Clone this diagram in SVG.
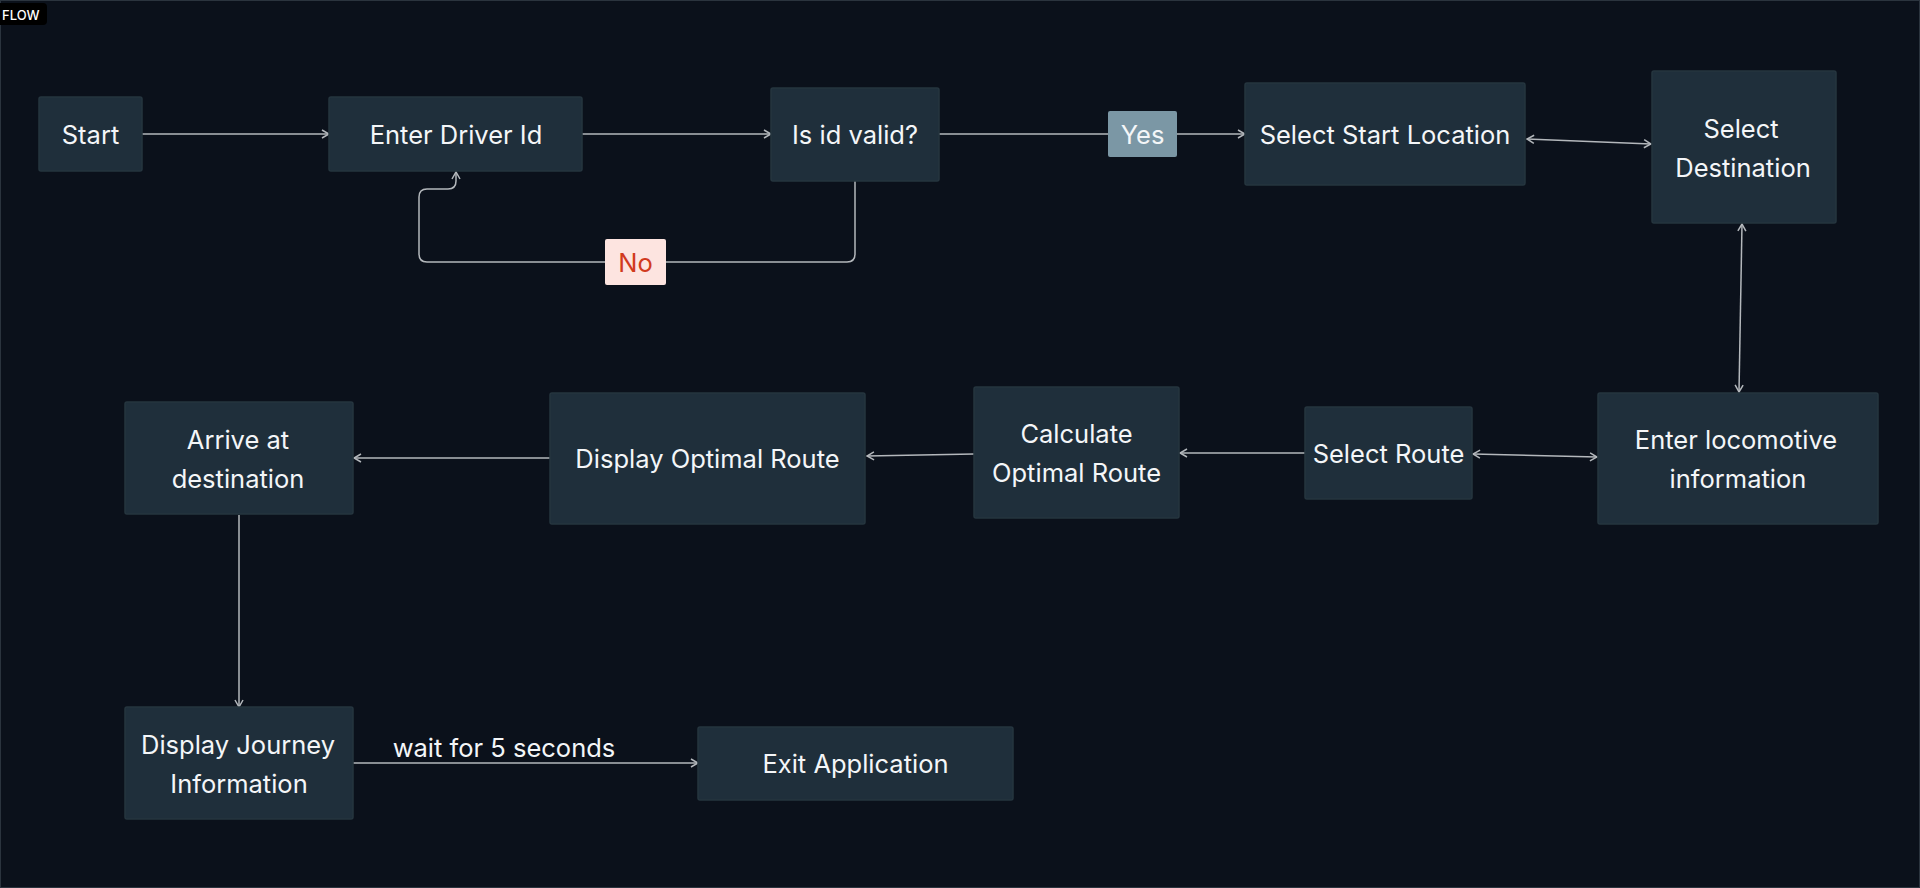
<svg xmlns="http://www.w3.org/2000/svg" width="1920" height="888" viewBox="0 0 1920 888">
<defs>
<style>
.node rect{fill:#1f2f3b;stroke:#26363f;stroke-width:1.5}
.node text,.lbl{font-family:Inter,"Noto Sans",sans-serif;font-size:25.5px;font-weight:400;fill:#f4f6f8;text-anchor:middle;dominant-baseline:central}
.edge{fill:none;stroke:#b4b8bc;stroke-width:1.5}
</style>
<marker id="ah" viewBox="0 0 10 10" refX="9" refY="5" markerWidth="10" markerHeight="10" markerUnits="userSpaceOnUse" orient="auto-start-reverse">
<path d="M2,1 L9,5 L2,9" fill="none" stroke="#b4b8bc" stroke-width="1.5"/>
</marker>
</defs>
<rect x="0" y="0" width="1920" height="888" fill="#0b111b"/>
<rect x="0.5" y="0.5" width="1919" height="887" fill="none" stroke="#2b343e" stroke-width="1"/>
<g id="flow-tag">
<rect x="-6" y="3" width="53" height="22" rx="4" fill="#000"/>
<text x="2" y="14.5" font-family="Inter,'Noto Sans',sans-serif" font-size="13" font-weight="500" fill="#fff" dominant-baseline="central">FLOW</text>
</g>
<g id="connectors">
<path class="edge" d="M142,134 L329,134" marker-end="url(#ah)"/>
<path class="edge" d="M582,134 L771,134" marker-end="url(#ah)"/>
<path class="edge" d="M939,134 L1108,134 M1177,134 L1245,134" marker-end="url(#ah)"/>
<path class="edge" d="M855,181 L855,254 Q855,262 847,262 L427,262 Q419,262 419,254 L419,197 Q419,189 427,189 L448,189 Q456,189 456,181 L456,172" marker-end="url(#ah)"/>
<path class="edge" d="M1527,139 L1651,144" marker-start="url(#ah)" marker-end="url(#ah)"/>
<path class="edge" d="M1742,224 L1739,392" marker-start="url(#ah)" marker-end="url(#ah)"/>
<path class="edge" d="M1473,454 L1597,457" marker-start="url(#ah)" marker-end="url(#ah)"/>
<path class="edge" d="M1305,453 L1180,453" marker-end="url(#ah)"/>
<path class="edge" d="M974,454 L867,456" marker-end="url(#ah)"/>
<path class="edge" d="M550,458 L354,458" marker-end="url(#ah)"/>
<path class="edge" d="M239,515 L239,707" marker-end="url(#ah)"/>
<path class="edge" d="M353,763 L698,763" marker-end="url(#ah)"/>
<text class="lbl" x="504" y="747">wait for 5 seconds</text>
</g>
<g id="label-yes">
<rect x="1108" y="111" width="69" height="46" rx="2" fill="#7b97a5"/>
<text class="lbl" x="1142.5" y="134">Yes</text>
</g>
<g id="label-no">
<rect x="605" y="239" width="61" height="46" rx="2" fill="#fde4e0"/>
<text class="lbl" x="635.5" y="262" style="fill:#d13a1e">No</text>
</g>
<g id="start" class="node"><rect x="39" y="97" width="103" height="74" rx="2"/><text x="90.5" y="134">Start</text></g>
<g id="enter-driver-id" class="node"><rect x="329" y="97" width="253" height="74" rx="2"/><text x="456" y="134">Enter Driver Id</text></g>
<g id="is-id-valid" class="node"><rect x="771" y="88" width="168" height="93" rx="2"/><text x="855" y="134">Is id valid?</text></g>
<g id="select-start-location" class="node"><rect x="1245" y="83" width="280" height="102" rx="2"/><text x="1385" y="134">Select Start Location</text></g>
<g id="select-destination" class="node"><rect x="1652" y="71" width="184" height="152" rx="2"/><text x="1741" y="128">Select</text><text x="1743" y="167">Destination</text></g>
<g id="enter-locomotive-information" class="node"><rect x="1598" y="393" width="280" height="131" rx="2"/><text x="1736" y="439">Enter locomotive</text><text x="1738" y="478">information</text></g>
<g id="select-route" class="node"><rect x="1305" y="407" width="167" height="92" rx="2"/><text x="1388.5" y="453">Select Route</text></g>
<g id="calculate-optimal-route" class="node"><rect x="974" y="387" width="205" height="131" rx="2"/><text x="1076.5" y="433">Calculate</text><text x="1076.5" y="472">Optimal Route</text></g>
<g id="display-optimal-route" class="node"><rect x="550" y="393" width="315" height="131" rx="2"/><text x="707.5" y="458">Display Optimal Route</text></g>
<g id="arrive-at-destination" class="node"><rect x="125" y="402" width="228" height="112" rx="2"/><text x="238" y="439">Arrive at</text><text x="238" y="478">destination</text></g>
<g id="display-journey-information" class="node"><rect x="125" y="707" width="228" height="112" rx="2"/><text x="238" y="744">Display Journey</text><text x="239" y="783">Information</text></g>
<g id="exit-application" class="node"><rect x="698" y="727" width="315" height="73" rx="2"/><text x="855.5" y="763">Exit Application</text></g>
</svg>
